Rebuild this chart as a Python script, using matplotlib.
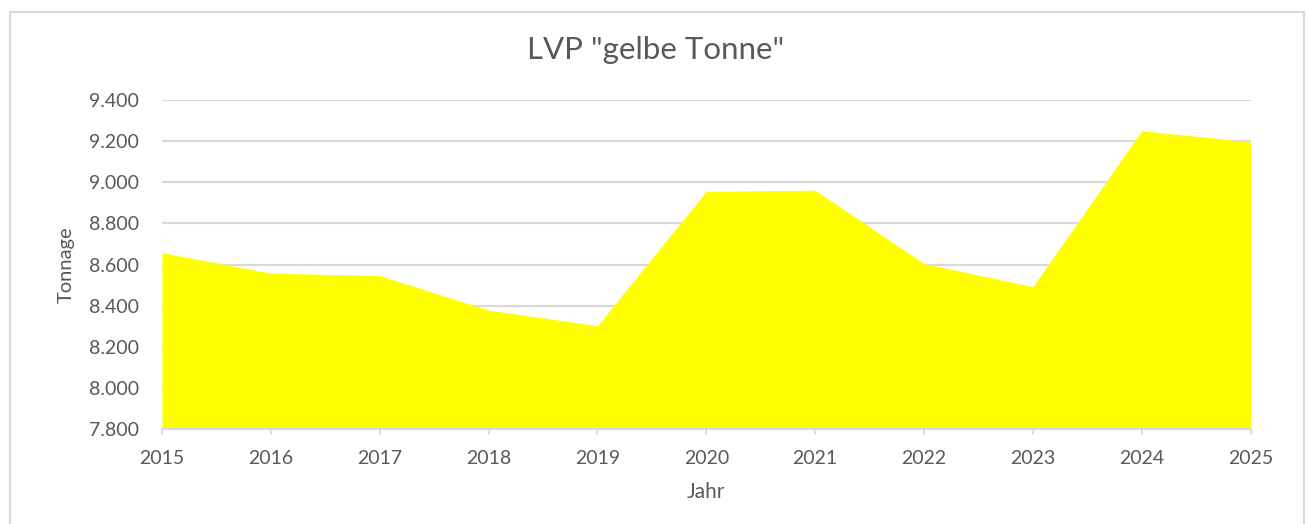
import matplotlib
matplotlib.use("Agg")
import matplotlib.pyplot as plt
from matplotlib.patches import Rectangle
from matplotlib.ticker import FuncFormatter

years = [2015, 2016, 2017, 2018, 2019, 2020, 2021, 2022, 2023, 2024, 2025]
tonnage = [8658, 8558, 8546, 8378, 8302, 8957, 8962, 8605, 8492, 9252, 9197]
yticks = [7800, 8000, 8200, 8400, 8600, 8800, 9000, 9200, 9400]

plt.rcParams["font.family"] = ["Lato", "DejaVu Sans"]
grey = "#595959"
gridc = "#D9D9D9"

fig = plt.figure(figsize=(13.09, 5.24), dpi=100)
ax = fig.add_axes([162 / 1309, (524 - 428.7) / 524, (1250.6 - 162) / 1309, (428.7 - 100.3) / 524])

# chart border like the spreadsheet frame
fig.patches.append(Rectangle((10 / 1309, -0.05), 1294 / 1309, 1.05 - 12 / 524,
                             transform=fig.transFigure, fill=False,
                             edgecolor=gridc, lw=1.5))

ax.fill_between(years, yticks[0], tonnage, color="#FFFF00", lw=0, zorder=2)

ax.set_xlim(years[0], years[-1])
ax.set_ylim(yticks[0], yticks[-1])
ax.set_xticks(years)
ax.set_yticks(yticks)
ax.yaxis.set_major_formatter(FuncFormatter(lambda v, p: f"{int(v):,}".replace(",", ".")))

ax.grid(axis="y", color=gridc, lw=1.5, zorder=1)
ax.set_axisbelow(True)
for s in ("top", "right", "left"):
    ax.spines[s].set_visible(False)
ax.spines["bottom"].set_color(gridc)
ax.spines["bottom"].set_linewidth(1.5)
ax.spines["bottom"].set_zorder(3)

ax.tick_params(axis="x", colors=grey, labelsize=14, length=4.5, width=1.2,
               color=gridc, pad=10.5)
ax.tick_params(axis="y", colors=grey, labelsize=14, length=0, pad=16.5)

ax.set_xlabel("Jahr", color=grey, fontsize=15, labelpad=11)
ax.set_ylabel("Tonnage", color=grey, fontsize=14.5, labelpad=10)
fig.text(0.501, 1 - 50 / 524, 'LVP "gelbe Tonne"', ha="center", va="center",
         fontsize=22.5, color=grey)

fig.savefig("out.png", dpi=100)
